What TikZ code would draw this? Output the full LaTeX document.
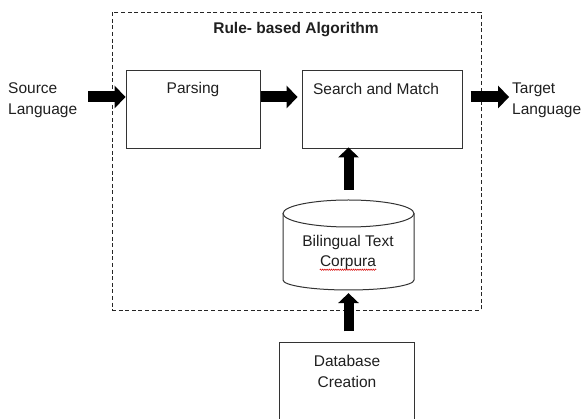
\documentclass[tikz,border=0pt]{standalone}
\usepackage{fontspec}
\setmainfont{Liberation Sans}
\usetikzlibrary{arrows.meta,decorations.pathmorphing}
\begin{document}
\begin{tikzpicture}[x=1pt,y=-1pt,
  txt/.style={inner sep=0pt, font=\fontsize{15.5}{21}\selectfont, text=black!88},
  box/.style={draw=black!80, line width=1pt, inner sep=0pt},
  frame/.style={draw=black!85, line width=0.9pt, dash pattern=on 4pt off 2.6pt, inner sep=0pt},
  flowh/.style={line width=11pt, black, -{Triangle[width=23pt,length=11pt,line width=0pt]}},
  flowv/.style={line width=10pt, black, -{Triangle[width=21pt,length=10pt,line width=0pt]}},
  spell/.style={red!85!black, line width=0.5pt, decorate,
    decoration={snake, amplitude=0.7pt, segment length=2.2pt}}
]
\useasboundingbox (0,0) rectangle (581,419);
\clip (0,0) rectangle (581,419);

% dashed frame of the algorithm and its title
\node[frame, minimum width=369pt, minimum height=298pt] (alg) at (296.5,161) {};
\node[txt, font=\fontsize{15.5}{21}\selectfont\bfseries] (title) at (296,30) {Rule- based Algorithm};

% processing boxes
\node[box, minimum width=134pt, minimum height=78pt] (parse) at (193,110) {};
\node[txt] (parselbl) at (193,89) {Parsing};
\node[box, minimum width=160pt, minimum height=78pt] (search) at (382,110) {};
\node[txt] (searchlbl) at (376,89) {Search and Match};

% corpus cylinder
\node[minimum width=131pt, minimum height=90pt, inner sep=0pt] (corpus) at (348.5,245) {};
\draw[black!80, line width=1pt, fill=white]
  (283,213.5) -- (283,280) arc[start angle=180, end angle=0, x radius=65.5, y radius=10]
  -- (414,213.5);
\draw[black!80, line width=1pt] (348.5,213.5) ellipse[x radius=65.5, y radius=13.5];
\node[txt] (bil) at (348,242) {Bilingual Text};
\node[txt] (corp) at (348,263) {Corpura};
\draw[spell] ([yshift=0.5pt]corp.south west) -- ([yshift=0.5pt]corp.south east);

% database creation box (runs past the lower edge)
\node[box, minimum width=135pt, minimum height=90pt] (db) at (346.5,388) {};
\node[txt, align=center] (dblbl) at (347,371) {Database\\Creation};

% outside labels
\node[txt, align=left, anchor=west] (src) at (8,100.5) {Source\\Language};
\node[txt, align=left, anchor=west] (tgt) at (512,100.5) {Target\\Language};

% block arrows
\coordinate (row) at (0,97);
\draw[flowh, shorten <=11pt] (src.east |- row) -- (parse.west |- row);
\draw[flowh, shorten >=4pt] (parse.east |- row) -- (search.west |- row);
\draw[flowh, shorten <=8pt, shorten >=3pt] (search.east |- row) -- (tgt.west |- row);
\draw[flowv, shorten <=10pt, shorten >=-2pt] (corpus.north) -- (corpus.north |- search.south);
\draw[flowv, shorten <=11pt, shorten >=3pt] (db.north -| corpus.south) -- (corpus.south);
\end{tikzpicture}
\end{document}
